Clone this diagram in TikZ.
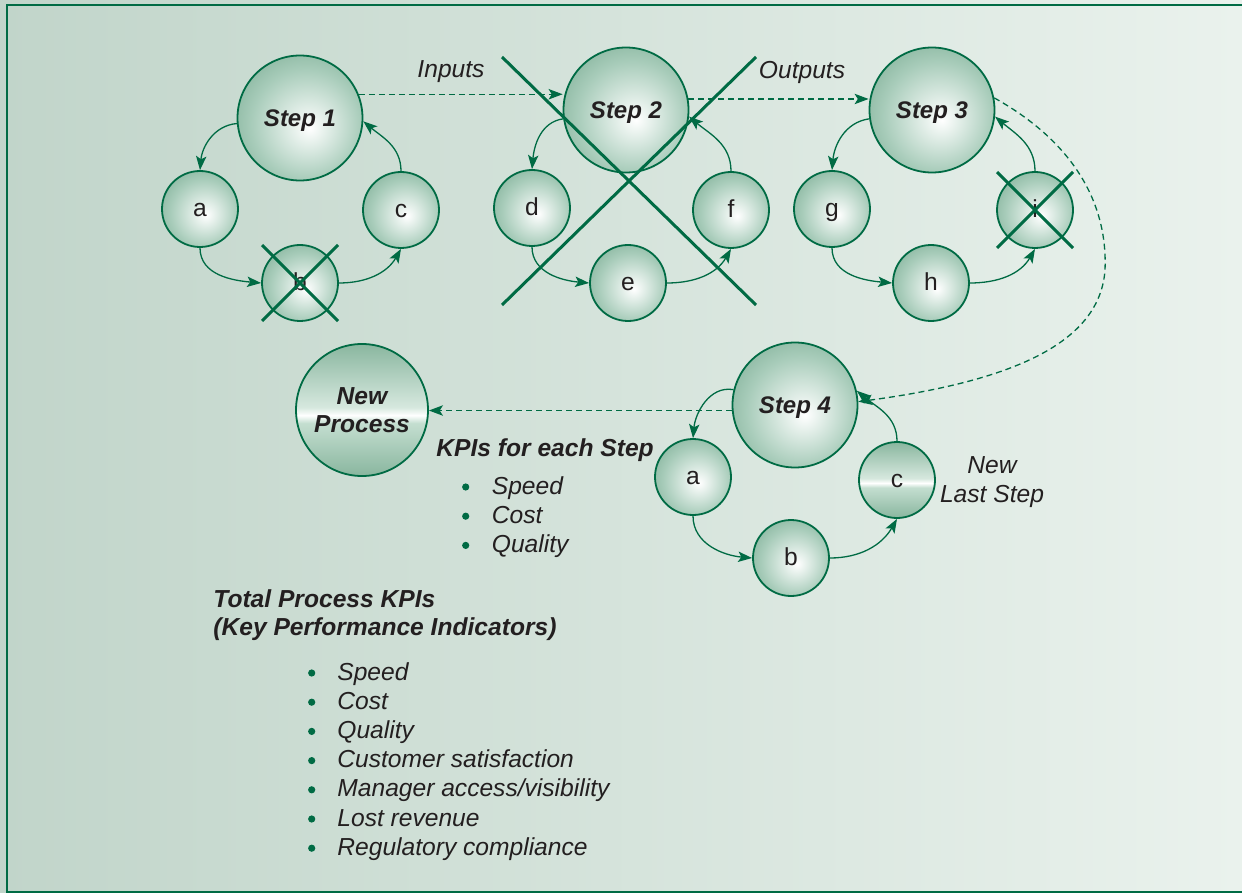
\documentclass[tikz,border=0pt]{standalone}
\usepackage{fontspec}
\setmainfont{Liberation Sans}
\usepackage{tikz}
\usetikzlibrary{arrows.meta}
\definecolor{linegreen}{RGB}{0,107,68}
\definecolor{ballgreen}{RGB}{76,139,107}
\definecolor{ballmid}{RGB}{168,204,186}
\definecolor{bandhigh}{RGB}{128,176,151}
\definecolor{bandpale}{RGB}{214,232,222}
\definecolor{bandlow}{RGB}{196,222,208}
\definecolor{bgleft}{RGB}{193,213,202}
\definecolor{bgright}{RGB}{234,242,237}
\definecolor{ink}{RGB}{35,31,32}
\pgfdeclareradialshading{ballglow}{\pgfpoint{4bp}{-4bp}}{color(0bp)=(white); color(22bp)=(ballmid); color(50bp)=(ballgreen); color(60bp)=(ballgreen)}
\pgfdeclareverticalshading{bandglow}{100bp}{color(0bp)=(ballgreen); color(22bp)=(bandhigh); color(45bp)=(bandlow); color(48bp)=(white); color(51bp)=(bandpale); color(78bp)=(bandhigh); color(100bp)=(ballgreen)}

\begin{document}
\begin{tikzpicture}[
  x=0.5pt, y=0.5pt,
  every node/.style={font=\fontsize{12.3}{14.6}\selectfont, text=ink},
  >={Stealth[length=7pt, width=5.2pt, inset=1.6pt]},
  bigstep/.style={circle, draw=linegreen, line width=0.9pt, shade, shading=ballglow,
    minimum size=62.5pt, inner sep=0pt, text height=9.5pt, text depth=0.8pt,
    font=\fontsize{12}{14.6}\selectfont\bfseries\itshape},
  substep/.style={circle, draw=linegreen, line width=0.9pt, shade, shading=ballglow,
    minimum size=38pt, inner sep=0pt, text height=8.5pt, text depth=0.8pt},
  roundarrow/.style={->, linegreen, line width=0.65pt},
  handoff/.style={->, linegreen, line width=0.65pt, dash pattern=on 3pt off 2pt},
  strikeline/.style={linegreen, line width=1.5pt},
  note/.style={inner sep=0pt, font=\fontsize{12.3}{14.6}\selectfont\itshape},
  heading/.style={anchor=base west, inner sep=0pt,
    font=\fontsize{12.3}{14.4}\selectfont\bfseries\itshape},
  kpidot/.style={fill=linegreen}
]

% Background and frame
\useasboundingbox (0,0) rectangle (1242,-893);
\shade[left color=bgleft, right color=bgright] (0,0) rectangle (1242,-893);
\draw[linegreen, line width=1pt] (1242,-5.5) -- (7,-5.5) -- (7,-891.5) -- (1242,-891.5);

% Step 1
\node[bigstep] (s1) at (300,-118) {Step 1};
\node[substep] (a1) at (200,-209) {a};
\node[substep] (b1) at (300,-283) {b};
\node[substep] (c1) at (401,-210) {c};
\draw[roundarrow] (s1.185) to[out=185, in=85] (a1.north);
\draw[roundarrow] (a1.south) to[out=-90, in=175] (b1.west);
\draw[roundarrow] (b1.east) to[out=0, in=-120] (c1.south);
\draw[roundarrow] (c1.north) to[out=90, in=-40] (s1.-3);
\draw[strikeline] ([shift={(-38,38)}]b1.center) -- ([shift={(38,-38)}]b1.center);
\draw[strikeline] ([shift={(-38,-38)}]b1.center) -- ([shift={(38,38)}]b1.center);

% Step 2
\node[bigstep] (s2) at (626,-110) {Step 2};
\node[substep] (d2) at (532,-208) {d};
\node[substep] (e2) at (628,-283) {e};
\node[substep] (f2) at (731,-210) {f};
\draw[roundarrow] (s2.188) to[out=188, in=85] (d2.north);
\draw[roundarrow] (d2.south) to[out=-90, in=175] (e2.west);
\draw[roundarrow] (e2.east) to[out=0, in=-120] (f2.south);
\draw[roundarrow] (f2.north) to[out=90, in=-40] (s2.-6);

% Step 3
\node[bigstep] (s3) at (932,-110) {Step 3};
\node[substep] (g3) at (832,-209) {g};
\node[substep] (h3) at (931,-283) {h};
\node[substep] (i3) at (1035,-210) {i};
\draw[roundarrow] (s3.188) to[out=188, in=85] (g3.north);
\draw[roundarrow] (g3.south) to[out=-90, in=175] (h3.west);
\draw[roundarrow] (h3.east) to[out=0, in=-120] (i3.south);
\draw[roundarrow] (i3.north) to[out=90, in=-40] (s3.-6);
\draw[strikeline] ([shift={(-38,38)}]i3.center) -- ([shift={(38,-38)}]i3.center);
\draw[strikeline] ([shift={(-38,-38)}]i3.center) -- ([shift={(38,38)}]i3.center);

% Inputs and outputs between the steps
\draw[handoff] (s1.22) -- (s1.22 -| s2.west);
\draw[handoff] (s2.10) -- (s2.10 -| s3.west);
\node[note, anchor=base] (inputs) at (451,-78) {Inputs};
\node[note, anchor=base] (outputs) at (802,-79) {Outputs};

% Step 2 is struck out
\draw[strikeline] (502,-57) -- (756,-305);
\draw[strikeline] (756,-57) -- (502,-305);

% Step 4 with the new last step
\node[bigstep] (s4) at (795,-405) {Step 4};
\node[substep] (a4) at (693,-477) {a};
\node[substep] (b4) at (791,-558) {b};
\node[substep, shading=bandglow] (c4) at (897,-480) {c};
\draw[roundarrow] (s4.166) to[out=170, in=85] (a4.north);
\draw[roundarrow] (a4.south) to[out=-90, in=175] (b4.west);
\draw[roundarrow] (b4.east) to[out=0, in=-120] (c4.south);
\draw[roundarrow] (c4.north) to[out=90, in=-40] (s4.13);
\node[note, anchor=base] (lastlbl) at (992,-473)
  {\begin{tabular}[t]{@{}c@{}}New\\Last Step\end{tabular}};

\coordinate (swing) at (1105,-270);
\draw[handoff] (s3.11) .. controls (1070,-140) and (1108,-200) .. (swing)
  .. controls (1100,-340) and (1020,-380) .. (s4.3);

% New process
\node[circle, draw=linegreen, line width=0.9pt, shade, shading=bandglow,
      minimum size=66pt, inner sep=0pt, align=center,
      font=\fontsize{12.3}{14.3}\selectfont\bfseries\itshape] (np) at (362,-410)
  {New\\Process};
\draw[handoff] (s4.185) -- (s4.185 -| np.east);

% KPIs
\node[heading] (stepkpi) at (436,-456) {KPIs for each Step};
\node[note, anchor=base west] (steplist) at (491.5,-494)
  {\begin{tabular}[t]{@{}l@{}}Speed\\Cost\\Quality\end{tabular}};
\foreach \row in {0,...,2}
  \fill[kpidot] (465.7,-487-29.2*\row) circle (1.8pt);

\node[heading] (totalkpi) at (213,-607)
  {\begin{tabular}[t]{@{}l@{}}Total Process KPIs\\(Key Performance Indicators)\end{tabular}};
\node[note, anchor=base west] (totallist) at (337,-680)
  {\begin{tabular}[t]{@{}l@{}}
   Speed\\
   Cost\\
   Quality\\
   Customer satisfaction\\
   Manager access/visibility\\
   Lost revenue\\
   Regulatory compliance
   \end{tabular}};
\foreach \row in {0,...,6}
  \fill[kpidot] (311.7,-673-29.2*\row) circle (1.8pt);

\end{tikzpicture}
\end{document}
